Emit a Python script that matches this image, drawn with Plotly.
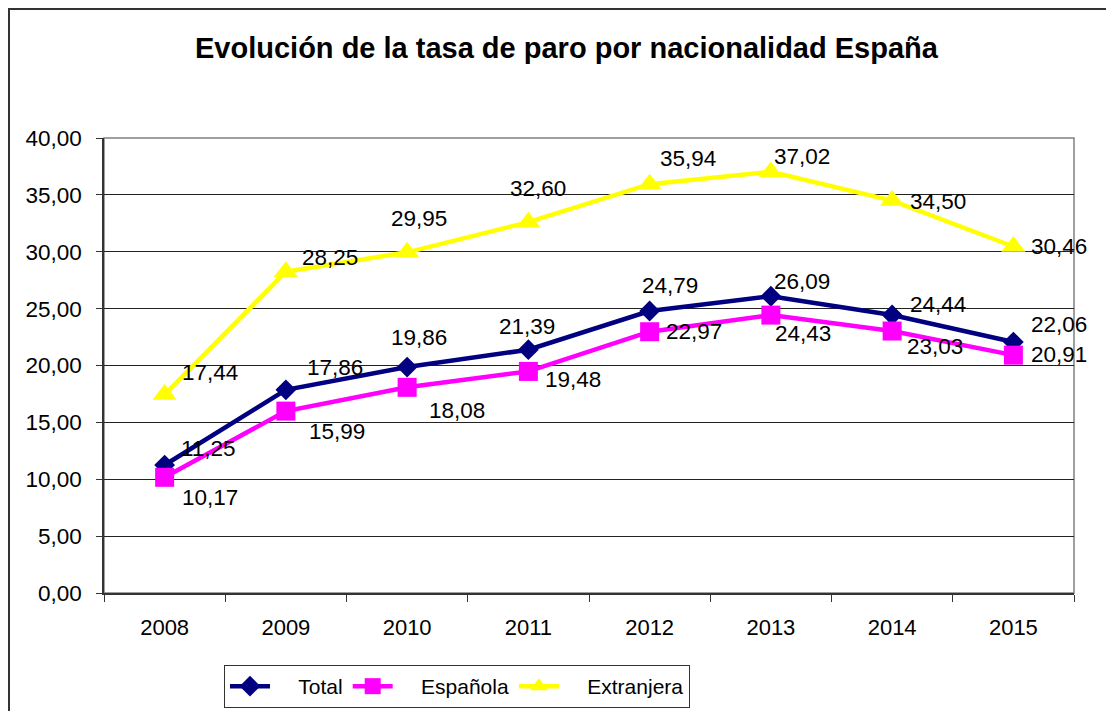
import plotly.graph_objects as go

years = ["2008", "2009", "2010", "2011", "2012", "2013", "2014", "2015"]
total = [11.25, 17.86, 19.86, 21.39, 24.79, 26.09, 24.44, 22.06]
espanola = [10.17, 15.99, 18.08, 19.48, 22.97, 24.43, 23.03, 20.91]
extranjera = [17.44, 28.25, 29.95, 32.60, 35.94, 37.02, 34.50, 30.46]
y_ticks = [0, 5, 10, 15, 20, 25, 30, 35, 40]

# label offsets in pixels (dx right, dy down) relative to each point
off_total = [(44, -17), (49, -22), (12, -30), (-1, -23), (20, -26), (31, -15), (46, -11), (46, -18)]
off_esp = [(45, 20), (51, 20), (50, 23), (45, 8), (44, 0), (32, 18), (43, 15), (46, -1)]
off_ext = [(45, -22), (44, -14), (12, -34), (10, -34), (38, -26), (31, -15), (46, 1), (46, 0)]

FONT = "Liberation Sans, Arial, sans-serif"
NB = "\u00a0"

# figure is placed at page offset (8, 8); plot area in figure px: x 96..1066, y 130..585
W, H = 1106, 703
L, R, T, B = 96, 1066, 130, 585
PW, PH = R - L, B - T


def px(x):
    return (x - L) / PW


def py(y):
    return (B - y) / PH


fig = go.Figure()
series = [
    ("Total", total, "#000080", "diamond", 16, off_total),
    ("Española", espanola, "#FF00FF", "square", 19, off_esp),
    ("Extranjera", extranjera, "#FFFF00", "triangle-up", 21, off_ext),
]
for name, vals, color, sym, size, offs in series:
    fig.add_trace(go.Scatter(
        x=years, y=vals, name=NB * 4 + name, mode="lines+markers",
        line=dict(color=color, width=4.5),
        marker=dict(symbol=sym, size=size, color=color),
    ))

annotations = []
for name, vals, color, sym, size, offs in series:
    for i, (v, (dx, dy)) in enumerate(zip(vals, offs)):
        annotations.append(dict(
            x=i, y=v, xref="x", yref="y", text=f"{v:.2f}".replace(".", ","),
            showarrow=False, xshift=dx, yshift=-dy,
            font=dict(family=FONT, size=22.5, color="black"),
        ))

annotations.append(dict(
    x=px(558.5), y=py(40), xref="paper", yref="paper",
    text="<b>Evolución de la tasa de paro por nacionalidad España</b>",
    showarrow=False, font=dict(family=FONT, size=29, color="black"),
    xanchor="center", yanchor="middle",
))

shapes = [
    # outer chart border
    dict(type="rect", xref="paper", yref="paper",
         x0=px(1), x1=1.3, y0=-0.6, y1=py(1),
         line=dict(color="#333333", width=2), layer="below"),
    # plot-area border (grey)
    dict(type="rect", xref="paper", yref="paper", x0=0, x1=1, y0=0, y1=1,
         line=dict(color="#808080", width=1.5), layer="below"),
]

fig.update_layout(
    width=W, height=H,
    margin=dict(l=L, r=W - R, t=T, b=H - B, autoexpand=False),
    paper_bgcolor="white", plot_bgcolor="white",
    separators=", ",
    showlegend=True,
    legend=dict(
        orientation="h", x=px(216), y=py(657),
        xanchor="left", yanchor="top",
        bordercolor="#333333", borderwidth=1,
        font=dict(family=FONT, size=21, color="black"),
        itemwidth=40,
    ),
    annotations=annotations,
    shapes=shapes,
    font=dict(family=FONT, size=22, color="black"),
)

fig.update_xaxes(
    type="category", range=[-0.5, 7.5],
    showline=True, linecolor="#333333", linewidth=1.5,
    ticks="outside", tickson="boundaries", ticklen=7, tickcolor="#333333",
    ticklabelstandoff=14,
    showgrid=False, zeroline=False,
    tickfont=dict(family=FONT, size=22, color="black"),
)
fig.update_yaxes(
    range=[0, 40], tickvals=y_ticks, tickformat=".2f",
    showline=True, linecolor="#333333", linewidth=1.5,
    ticks="outside", ticklen=6, tickcolor="#333333",
    ticklabelstandoff=10,
    showgrid=True, gridcolor="#222222", gridwidth=1,
    zeroline=False,
    tickfont=dict(family=FONT, size=22.5, color="black"),
)

fig.write_html("out.html")
